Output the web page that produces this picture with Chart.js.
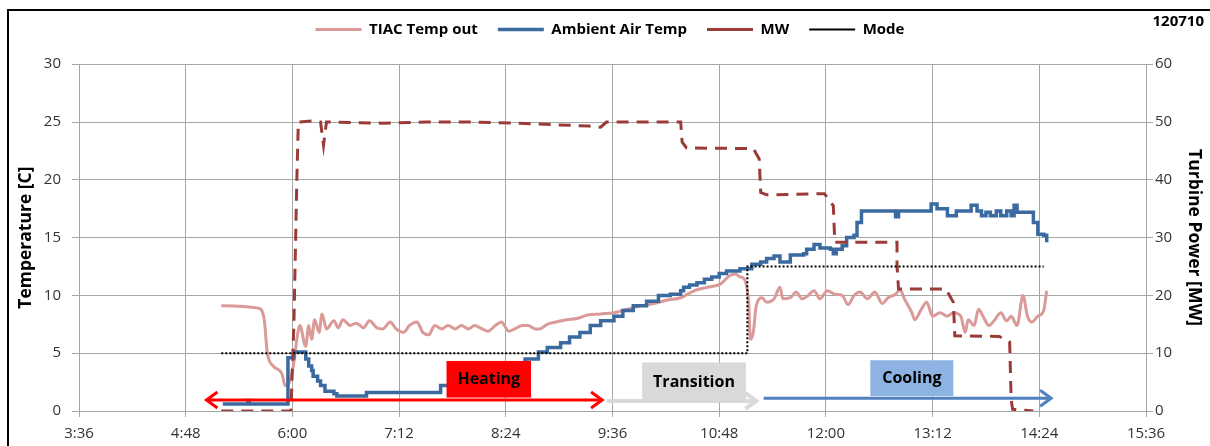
<!DOCTYPE html>
<html>
<head>
<meta charset="utf-8">
<script src="https://cdn.jsdelivr.net/npm/chart.js@4.4.0/dist/chart.umd.min.js"></script>
<style>
  html, body { margin: 0; padding: 0; background: #fff; }
  #wrap { position: relative; width: 1210px; height: 446px; overflow: hidden; }
  #frame { position: absolute; left: 7px; top: 9px; width: 1230px; height: 470px; border: 2px solid #000; box-sizing: border-box; }
  #grafica { position: absolute; left: 0; top: 0; }
</style>
</head>
<body>
<div id="wrap"><div id="frame"></div><canvas id="grafica" width="1210" height="446"></canvas></div>
<script>
// tiempos en "h:mm"
const tiacTimes = ["5:12","5:37","5:41","5:43","5:47","5:53","5:55","5:58","6:01","6:03","6:05","6:09","6:11","6:13","6:15","6:18","6:20","6:23","6:28","6:31","6:34","6:39","6:43","6:48","6:52","6:57","7:01","7:06","7:10","7:15","7:19","7:24","7:28","7:32","7:36","7:41","7:45","7:50","7:54","7:59","8:03","8:08","8:12","8:17","8:21","8:26","8:30","8:35","8:39","8:44","8:47","8:52","8:58","9:05","9:12","9:19","9:28","9:37","9:46","9:55","10:04","10:13","10:22","10:31","10:40","10:49","10:55","10:59","11:02","11:05","11:08","11:09","11:11","11:13","11:17","11:20","11:25","11:29","11:31","11:36","11:40","11:44","11:48","11:52","11:56","12:01","12:06","12:11","12:15","12:19","12:23","12:28","12:33","12:38","12:42","12:47","12:50","12:53","12:58","13:00","13:04","13:08","13:12","13:17","13:22","13:26","13:31","13:34","13:36","13:40","13:43","13:46","13:50","13:54","13:58","14:02","14:05","14:09","14:13","14:16","14:19","14:23","14:27","14:29"];
const tiacTemp = [9.1,8.9,7.9,5.1,3.9,3.2,2.2,2.5,4.2,6.2,7.4,5.6,7.4,6.2,7.9,6.8,8.4,7.1,7.8,7.2,7.9,7.4,7.6,7.2,7.8,7.2,7.1,7.7,7.1,6.8,7.4,7.7,6.8,6.6,7.4,7.1,7.4,7.1,7.4,7.1,7.4,7.1,6.9,7.4,7.7,6.9,7.1,7.4,7.4,7.1,7.1,7.5,7.7,7.9,8.0,8.3,8.4,8.5,8.8,9.1,9.3,9.6,9.8,10.4,10.7,11.0,11.7,11.85,11.6,11.4,9.1,6.2,6.8,9.1,9.8,9.4,9.7,10.7,9.7,9.8,10.3,9.7,10.0,10.4,9.7,10.4,10.1,10.0,9.2,10.0,10.3,9.7,10.3,9.3,9.8,10.1,10.5,9.7,8.5,7.9,8.7,9.4,8.2,8.5,8.2,8.5,8.2,6.8,7.9,7.4,8.8,8.2,7.4,7.9,8.5,7.8,8.2,7.4,10.0,8.2,7.7,8.2,8.7,10.4];

const ambientTimes = ["5:13","5:29","5:30","5:31","5:55","5:57","6:01","6:07","6:09","6:11","6:13","6:14","6:17","6:19","6:22","6:28","6:30","6:49","6:50","7:37","7:40","8:30","8:37","8:46","8:52","9:01","9:07","9:14","9:21","9:28","9:37","9:43","9:50","9:59","10:07","10:15","10:22","10:24","10:28","10:33","10:38","10:43","10:48","10:53","11:00","11:02","11:07","11:10","11:16","11:20","11:25","11:29","11:36","11:45","11:47","11:52","11:56","12:03","12:05","12:07","12:11","12:14","12:19","12:21","12:24","12:46","12:47","12:49","13:09","13:11","13:15","13:22","13:28","13:38","13:42","13:45","13:48","13:51","13:55","13:58","14:02","14:05","14:07","14:09","14:17","14:20","14:23","14:27","14:29"];
const ambientTemp = [0.6,0.6,0.9,0.6,0.6,4.6,5.1,5.1,4.5,3.9,3.5,3.0,2.6,2.2,1.7,1.5,1.3,1.3,1.6,1.6,2.2,2.2,4.5,5.1,5.5,5.9,6.4,6.8,7.4,7.8,8.2,8.7,9.1,9.5,10.0,10.1,10.4,10.7,10.9,11.1,11.4,11.6,11.9,12.1,12.1,12.3,12.3,12.7,12.9,13.2,13.4,12.9,13.5,13.6,14.0,14.4,14.1,14.0,13.6,14.0,14.3,15.0,15.2,16.3,17.3,17.3,16.8,17.3,17.3,17.9,17.5,16.9,17.3,17.8,17.3,16.9,17.2,16.9,17.3,16.9,17.3,16.9,17.8,17.2,17.2,16.3,15.3,15.2,14.6];

const mwTimes = ["5:12","5:59","6:01","6:03","6:04","6:14","6:19","6:21","6:23","7:00","7:30","8:00","8:30","9:00","9:20","9:28","9:32","10:00","10:22","10:23","10:26","11:11","11:15","11:16","11:20","11:59","12:05","12:06","12:48","12:48","12:49","13:21","13:26","13:27","13:57","14:04","14:05","14:06","14:20"];
const mwValues = [0,0,15,40,50,50.2,50,46,50,49.8,50,50,49.8,49.5,49.3,49.1,50,50,50,46.5,45.5,45.4,43.6,37.8,37.4,37.6,35.5,29.2,29.2,25.1,21.1,21.1,18.8,13.0,12.9,11.9,2,0.3,0];

const modeTimes = ["5:12","11:07","11:07","14:27"];
const modeValues = [5,5,12.5,12.5];

const xTicks = ["3:36","4:48","6:00","7:12","8:24","9:36","10:48","12:00","13:12","14:24","15:36"];

const phaseNames = ["Heating","Transition","Cooling"];
const phaseBoxStart = ["7:44","9:56","12:30"];
const phaseBoxEnd = ["8:41","11:06","13:26"];
const phaseBoxTop = [4.33,4.2,4.39];
const phaseBoxBottom = [1.16,0.73,1.3];
const phaseArrowStart = ["5:02","9:32","11:18"];
const phaseArrowEnd = ["9:29","11:13","14:32"];
const phaseArrowLevel = [0.95,0.87,1.1];

const toMin = s => { const p = s.split(":"); return (+p[0]) * 60 + (+p[1]); };
const fmtMin = v => Math.floor(v / 60) + ":" + String(Math.round(v % 60)).padStart(2, "0");
const pares = (t, v) => t.map((s, i) => ({ x: toMin(s), y: v[i] }));

const fuente = "'Open Sans', 'Liberation Sans', sans-serif";
const boxColors = ["#ff0000", "#d9d9d9", "#8db3e2"];
const arrowColors = ["#ff0000", "#d9d9d9", "#4f81bd"];
const arrowWidths = [3, 4, 3];

function flecha(ctx, x, y, dir) {
  ctx.beginPath();
  ctx.moveTo(x - dir * 11, y - 8);
  ctx.lineTo(x, y);
  ctx.lineTo(x - dir * 11, y + 8);
  ctx.stroke();
}

const fases = {
  id: "fases",
  afterDatasetsDraw(chart) {
    const ctx = chart.ctx, xs = chart.scales.x, ys = chart.scales.y;
    ctx.save();
    phaseNames.forEach((name, i) => {
      const x0 = xs.getPixelForValue(toMin(phaseArrowStart[i]));
      const x1 = xs.getPixelForValue(toMin(phaseArrowEnd[i]));
      const ay = ys.getPixelForValue(phaseArrowLevel[i]);
      ctx.strokeStyle = arrowColors[i];
      ctx.lineWidth = arrowWidths[i];
      ctx.lineCap = "butt";
      ctx.beginPath(); ctx.moveTo(x0, ay); ctx.lineTo(x1, ay); ctx.stroke();
      flecha(ctx, x1, ay, 1);
      if (i === 0) flecha(ctx, x0, ay, -1);
      const bx0 = xs.getPixelForValue(toMin(phaseBoxStart[i]));
      const bx1 = xs.getPixelForValue(toMin(phaseBoxEnd[i]));
      const by0 = ys.getPixelForValue(phaseBoxTop[i]);
      const by1 = ys.getPixelForValue(phaseBoxBottom[i]);
      ctx.fillStyle = boxColors[i];
      ctx.fillRect(bx0, by0, bx1 - bx0, by1 - by0);
      ctx.fillStyle = "#000";
      ctx.font = "bold 16px " + fuente;
      ctx.textAlign = "center";
      ctx.textBaseline = "middle";
      ctx.fillText(name, (bx0 + bx1) / 2, (by0 + by1) / 2);
    });
    ctx.font = "bold 15px " + fuente;
    ctx.textAlign = "right";
    ctx.textBaseline = "middle";
    ctx.fillStyle = "#000";
    ctx.fillText("120710", 1204, 22);
    ctx.restore();
  }
};

new Chart(document.getElementById("grafica"), {
  type: "line",
  data: {
    datasets: [{
      label: "TIAC Temp out",
      data: pares(tiacTimes, tiacTemp),
      borderColor: "#d99a98",
      borderWidth: 3,
      cubicInterpolationMode: "monotone",
      yAxisID: "y",
      order: 3
    }, {
      label: "Ambient Air Temp",
      data: pares(ambientTimes, ambientTemp),
      borderColor: "#3b6aa0",
      borderWidth: 3.5,
      stepped: true,
      yAxisID: "y",
      order: 2
    }, {
      label: "MW",
      data: pares(mwTimes, mwValues),
      borderColor: "#9b3b38",
      borderWidth: 3,
      borderDash: [12, 8],
      yAxisID: "y1",
      order: 1
    }, {
      label: "Mode",
      data: pares(modeTimes, modeValues),
      borderColor: "#000",
      borderWidth: 2,
      borderDash: [2, 2],
      yAxisID: "y",
      order: 0
    }]
  },
  options: {
    responsive: false,
    animation: false,
    parsing: false,
    elements: { point: { radius: 0 } },
    layout: { padding: { top: 2, left: 16, right: 6, bottom: 0 } },
    scales: {
      x: {
        type: "linear",
        min: toMin(xTicks[0]),
        max: toMin(xTicks[xTicks.length - 1]),
        afterBuildTicks: s => { s.ticks = xTicks.map(t => ({ value: toMin(t) })); },
        afterFit: s => { s.height = 35; },
        grid: { color: "#a6a6a6", tickLength: 6 },
        border: { color: "#a6a6a6" },
        ticks: { callback: v => fmtMin(v), color: "#333", font: { family: fuente, size: 15 }, padding: 8, maxRotation: 0 }
      },
      y: {
        position: "left",
        min: 0, max: 30,
        afterFit: s => { s.width = 63; },
        grid: { color: "#a6a6a6", tickLength: 7 },
        border: { color: "#a6a6a6" },
        ticks: { stepSize: 5, color: "#333", font: { family: fuente, size: 15 }, padding: 11 },
        title: { display: true, text: "Temperature [C]", color: "#000", font: { family: fuente, size: 17.5, weight: "bold" }, padding: 0 }
      },
      y1: {
        position: "right",
        min: 0, max: 60,
        afterFit: s => { s.width = 58; },
        grid: { drawOnChartArea: false, color: "#a6a6a6", tickLength: 7 },
        border: { color: "#a6a6a6" },
        ticks: { stepSize: 10, color: "#333", font: { family: fuente, size: 15 }, padding: 2 },
        title: { display: true, text: "Turbine Power [MW]", color: "#000", font: { family: fuente, size: 17.5, weight: "bold" }, padding: 0 }
      }
    },
    plugins: {
      legend: {
        labels: {
          usePointStyle: true,
          pointStyle: "line",
          pointStyleWidth: 46,
          boxHeight: 15,
          padding: 20,
          color: "#000",
          sort: (a, b) => a.datasetIndex - b.datasetIndex,
          font: { family: fuente, size: 15, weight: "bold" }
        }
      },
      subtitle: { display: true, text: " ", weight: 500, font: { size: 1 }, padding: { top: 16, bottom: 0 } },
      tooltip: { enabled: false }
    }
  },
  plugins: [fases]
});
</script>
</body>
</html>
